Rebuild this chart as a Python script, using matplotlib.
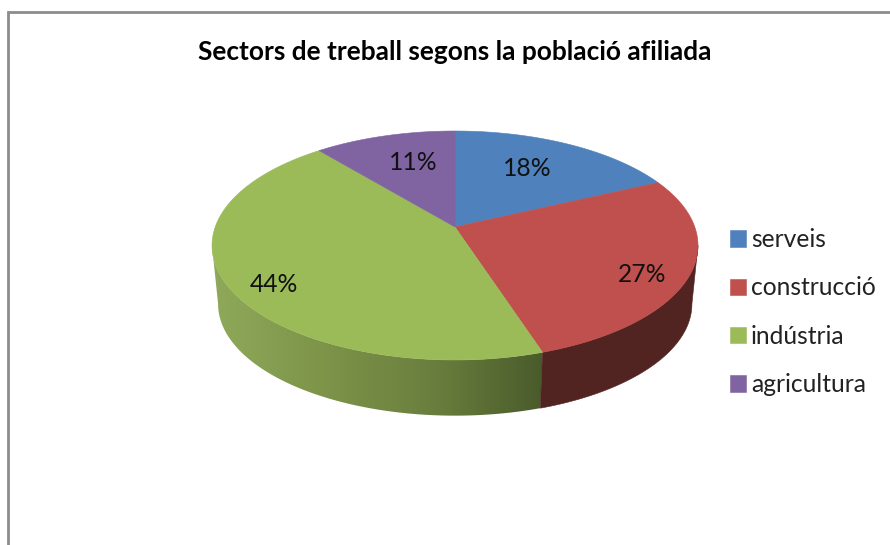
import numpy as np
import matplotlib
matplotlib.use("Agg")
import matplotlib.pyplot as plt
from matplotlib.colors import LinearSegmentedColormap
from matplotlib.patches import Patch, Polygon

# ── Data ──────────────────────────────────────────────────────
TITLE = "Sectors de treball segons la població afiliada"
SECTORS = ["serveis", "construcció", "indústria", "agricultura"]
SHARES = [18, 27, 44, 11]

# ── Style ─────────────────────────────────────────────────────
FONT = "Lato"
COLORS = ["#4f81bd", "#c0504d", "#9bbb59", "#8064a2"]
SIDE_RED = "#512421"
SIDE_GREEN = ["#8fa95a", "#7d9449", "#6a7f3e", "#4a5b2b"]
LABEL_XY = [(527, 168), (642, 274), (274, 284), (413, 163)]

# pie geometry in pixels: apex, radii and perspective
APEX_X, APEX_Y = 455, 227
RX, RY, PERSP = 239.8, 111.5, 0.1615
DEPTH, BOTTOM_SCALE = 59, 0.975


def top_edge(theta, scale=1.0, drop=0.0):
    """Project a pie angle (clockwise from 12 o'clock) to pixel coordinates."""
    u, v = np.sin(theta), np.cos(theta)
    w = 1 + PERSP * v
    return APEX_X + scale * RX * u / w, APEX_Y + drop - scale * RY * v / w


fig = plt.figure(figsize=(8.9, 5.45), dpi=100)
ax = fig.add_axes([0, 0, 1, 1])

# border of the chart area, only the top and left show in the crop
ax.plot([8, 8, 890], [545, 12, 12], color="#8c8c8c", lw=2, solid_joinstyle="miter")

edges = np.cumsum([0] + SHARES) / sum(SHARES) * 2 * np.pi

# visible front of the rim lies between the two tangent angles
front_start = np.arccos(-PERSP)
front_end = 2 * np.pi - front_start

for i in range(len(SHARES)):
    start = max(edges[i], front_start)
    end = min(edges[i + 1], front_end)
    if start >= end:
        continue
    t = np.linspace(start, end, 120)
    xt, yt = top_edge(t)
    xb, yb = top_edge(t[::-1], BOTTOM_SCALE, DEPTH)
    pts = np.column_stack([np.r_[xt, xb], np.r_[yt, yb]])
    if SECTORS[i] == "indústria":
        poly = Polygon(pts, closed=True, fc="none", ec="none")
        ax.add_patch(poly)
        # rim shading runs from the left edge to the slice boundary
        cmap = LinearSegmentedColormap.from_list("rim", SIDE_GREEN[::-1])
        grad = np.linspace(0, 1, 256).reshape(1, -1)
        img = ax.imshow(grad, cmap=cmap, aspect="auto", interpolation="bilinear",
                        extent=[pts[:, 0].max(), pts[:, 0].min(), pts[:, 1].max(), pts[:, 1].min()])
        img.set_clip_path(poly)
    else:
        ax.add_patch(Polygon(pts, closed=True, fc=SIDE_RED, ec=SIDE_RED, lw=0.4))

# top face
for i, color in enumerate(COLORS):
    t = np.linspace(edges[i], edges[i + 1], 160)
    x, y = top_edge(t)
    pts = np.column_stack([np.r_[APEX_X, x], np.r_[APEX_Y, y]])
    ax.add_patch(Polygon(pts, closed=True, fc=color, ec=color, lw=0.4))

for share, (lx, ly) in zip(SHARES, LABEL_XY):
    ax.text(lx, ly, f"{share}%", ha="center", va="center",
            fontsize=17.7, family=FONT, color="#111111")

ax.text(455, 52, TITLE, ha="center", va="center",
        fontsize=18.9, family=FONT, fontweight="bold", color="#000000")

handles = [Patch(fc=c, ec=c, lw=0.4) for c in COLORS]
ax.legend(handles, SECTORS, loc="center left", bbox_to_anchor=(730 / 890, 1 - 312 / 545),
          frameon=False, prop={"family": FONT, "size": 17.7}, labelcolor="#222222",
          handlelength=0.65, handleheight=0.65, handletextpad=0.2, labelspacing=1.03,
          borderpad=0, borderaxespad=0)

ax.set_xlim(0, 890)
ax.set_ylim(545, 0)
ax.axis("off")

fig.savefig("out.png", dpi=100)
